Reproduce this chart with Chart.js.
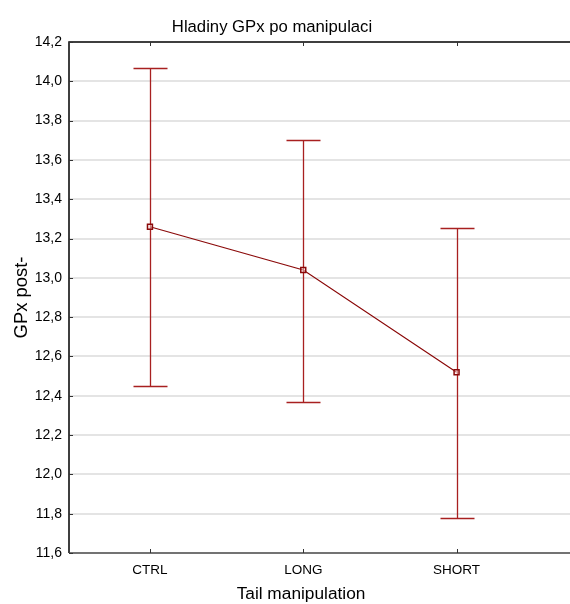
<!DOCTYPE html>
<html>
<head>
<meta charset="utf-8">
<script src="https://cdn.jsdelivr.net/npm/chart.js@4"></script>
<style>
  html, body { margin: 0; padding: 0; background: #fff; }
  #wrap { width: 570px; height: 604px; position: relative; }
</style>
</head>
<body>
<div id="wrap"><canvas id="chart"></canvas></div>
<script>
const categories = ['CTRL', 'LONG', 'SHORT'];
const means = [13.26, 13.04, 12.52];
const upper = [14.07, 13.70, 13.255];
const lower = [12.45, 12.37, 11.78];

const FONT = '"Liberation Sans", Arial, sans-serif';
const RED = '#8b0a0a';

const fmt = v => v.toFixed(1).replace('.', ',');

// grid, error bars, frame ticks and titles
const extras = {
    id: 'extras',
    beforeDatasetsDraw(chart) {
        const ctx = chart.ctx;
        const a = chart.chartArea;
        const xs = chart.scales.x, ys = chart.scales.y;
        ctx.save();
        // horizontal grid, running to the canvas edge
        ctx.strokeStyle = '#dcdcdc';
        ctx.lineWidth = 1.5;
        ctx.beginPath();
        ys.ticks.forEach(t => {
            if (t.value <= ys.min || t.value >= ys.max) return;
            const y = Math.round(ys.getPixelForValue(t.value));
            ctx.moveTo(a.left, y); ctx.lineTo(chart.width, y);
        });
        ctx.stroke();
        // error bars
        ctx.strokeStyle = '#a82020';
        ctx.lineWidth = 1.3;
        categories.forEach((c, i) => {
            const x = Math.round(xs.getPixelForValue(i)) + 0.5;
            const yu = Math.round(ys.getPixelForValue(upper[i])) + 0.5;
            const yl = Math.round(ys.getPixelForValue(lower[i])) + 0.5;
            ctx.beginPath();
            ctx.moveTo(x, yu); ctx.lineTo(x, yl);
            ctx.moveTo(x - 17, yu); ctx.lineTo(x + 17, yu);
            ctx.moveTo(x - 17, yl); ctx.lineTo(x + 17, yl);
            ctx.stroke();
        });
        ctx.restore();
    },
    afterDraw(chart) {
        const ctx = chart.ctx;
        const a = chart.chartArea;
        const xs = chart.scales.x, ys = chart.scales.y;
        ctx.save();
        // frame
        ctx.strokeStyle = '#000';
        ctx.lineWidth = 1.5;
        ctx.beginPath();
        ctx.moveTo(a.left, a.bottom);
        ctx.lineTo(a.left, a.top);
        ctx.lineTo(chart.width, a.top);
        ctx.stroke();
        ctx.strokeStyle = '#444';
        ctx.beginPath();
        ctx.moveTo(a.left, a.bottom);
        ctx.lineTo(chart.width, a.bottom);
        ctx.stroke();
        // inward ticks
        ctx.lineWidth = 1;
        ctx.strokeStyle = '#333';
        ctx.beginPath();
        categories.forEach((c, i) => {
            const x = Math.round(xs.getPixelForValue(i)) + 0.5;
            ctx.moveTo(x, a.top); ctx.lineTo(x, a.top + 4);
            ctx.moveTo(x, a.bottom); ctx.lineTo(x, a.bottom - 4);
        });
        ys.ticks.forEach(t => {
            const y = Math.round(ys.getPixelForValue(t.value)) + 0.5;
            ctx.moveTo(a.left, y); ctx.lineTo(a.left + 4, y);
        });
        ctx.stroke();
        // titles
        ctx.fillStyle = '#000';
        ctx.textAlign = 'center';
        ctx.textBaseline = 'middle';
        ctx.font = '16.7px ' + FONT;
        ctx.fillText('Hladiny GPx po manipulaci', 272, 27);
        ctx.font = '17.3px ' + FONT;
        ctx.fillText('Tail manipulation', 301, 594);
        ctx.translate(22, (a.top + a.bottom) / 2);
        ctx.rotate(-Math.PI / 2);
        ctx.font = '18.4px ' + FONT;
        ctx.fillText('GPx post-', 0, 0);
        ctx.restore();
    }
};

new Chart(document.getElementById('chart'), {
    type: 'scatter',
    data: {
        datasets: [{
            data: means.map((m, i) => ({ x: i, y: m })),
            showLine: true,
            borderColor: RED,
            borderWidth: 1.2,
            backgroundColor: 'rgba(255,255,255,0.6)',
            pointStyle: 'rect',
            pointRadius: 3.5,
            pointBorderWidth: 1.5,
            pointBorderColor: RED,
            pointBackgroundColor: 'rgba(255,230,230,0.5)'
        }]
    },
    options: {
        responsive: true,
        maintainAspectRatio: false,
        animation: false,
        events: [],
        layout: { padding: { top: 42, right: 0, left: 0, bottom: 0 } },
        plugins: {
            legend: { display: false },
            title: { display: false },
            tooltip: { enabled: false }
        },
        scales: {
            x: {
                type: 'linear',
                min: -0.528,
                max: 2.704,
                afterBuildTicks: s => { s.ticks = categories.map((c, i) => ({ value: i })); },
                afterFit: s => { s.height = 51; },
                grid: { display: false, drawTicks: false },
                border: { display: false },
                ticks: {
                    padding: 9,
                    color: '#000',
                    font: { family: FONT, size: 13.5 },
                    callback: v => categories[v]
                }
            },
            y: {
                min: 11.6,
                max: 14.2,
                afterFit: s => { s.width = 69; },
                border: { display: false },
                grid: { display: false, drawTicks: false },
                ticks: {
                    stepSize: 0.2,
                    padding: 7,
                    color: '#000',
                    font: { family: FONT, size: 14 },
                    callback: v => fmt(v)
                }
            }
        }
    },
    plugins: [extras]
});
</script>
</body>
</html>
